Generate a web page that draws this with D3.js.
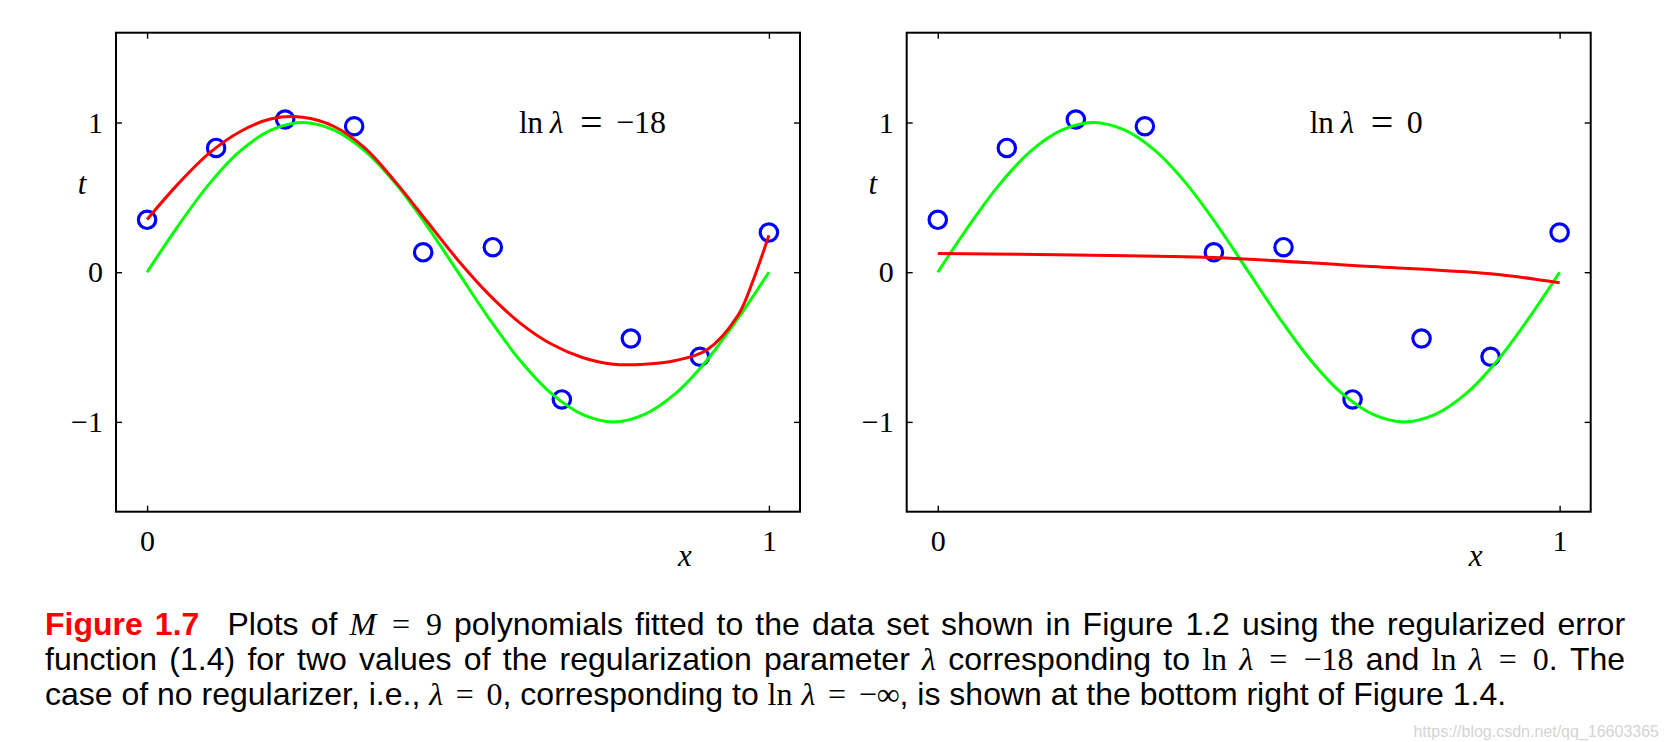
<!DOCTYPE html>
<html>
<head>
<meta charset="utf-8">
<script src="https://cdn.jsdelivr.net/npm/d3@7"></script>
<style>
  body { margin: 0; background: #fff; }
  .wrap { position: relative; width: 1669px; height: 742px; overflow: hidden; }
  svg { position: absolute; left: 0; top: 0; }
  .caption { position: absolute; left: 45px; top: 607px; width: 1620px;
    font-family: 'Liberation Sans', Arial, sans-serif; font-size: 32px; color: #000; }
  .caption div { line-height: 35px; height: 35px; white-space: nowrap; display: inline-block; }
  .caption .fig { color: #f00; font-weight: bold; margin-right: 0.5em; }
  .caption .m { font-family: 'Liberation Serif', serif; font-size: 32px; }
  .caption .mi { font-family: 'Liberation Serif', serif; font-style: italic; font-size: 32px; }
  .caption .rel { margin: 0 0.12em; }
</style>
</head>
<body>
<div class="wrap"></div>
<script>
// data
const xTicks = [0, 1];
const yTicks = [-1, 0, 1];
const pointX = [0, 0.111, 0.222, 0.333, 0.444, 0.556, 0.667, 0.778, 0.889, 1];
const pointT = [0.35, 0.83, 1.02, 0.975, 0.133, 0.167, -0.85, -0.443, -0.565, 0.265];

const greenX = [0, 0.05, 0.1, 0.15, 0.2, 0.25, 0.3, 0.35, 0.4, 0.45, 0.5,
  0.55, 0.6, 0.65, 0.7, 0.75, 0.8, 0.85, 0.9, 0.95, 1];
const greenT = [0, 0.31, 0.59, 0.81, 0.95, 1.0, 0.95, 0.81, 0.59, 0.31, 0,
  -0.31, -0.59, -0.81, -0.95, -1.0, -0.95, -0.81, -0.59, -0.31, 0];

const redLeftX = [0, 0.05, 0.1, 0.15, 0.2, 0.25, 0.3, 0.35, 0.4, 0.45, 0.5,
  0.55, 0.6, 0.65, 0.7, 0.75, 0.8, 0.85, 0.9, 0.95, 0.975, 1];
const redLeftT = [0.352, 0.59, 0.795, 0.94, 1.025, 1.035, 0.975, 0.83, 0.6, 0.34, 0.08,
  -0.15, -0.34, -0.48, -0.57, -0.615, -0.615, -0.59, -0.52, -0.29, -0.05, 0.247];

const redRightX = [0, 0.222, 0.444, 0.667, 0.889, 1];
const redRightT = [0.125, 0.115, 0.098, 0.045, -0.01, -0.07];

const lambdaLabels = ['\u221218', '0'];

// layout
const width = 1669;
const height = 742;
const frameTop = 32.7;
const frameHeight = 479;
const frameWidth = 684;
const panelLeft = [116, 906.7];
const serif = "'Liberation Serif', 'Times New Roman', serif";

const wrap = d3.select('.wrap');
const svg = wrap.append('svg').attr('width', width).attr('height', height);

const y = d3.scaleLinear().domain([-1.6, 1.6]).range([frameTop + frameHeight, frameTop]);

const line = (xs, x) => d3.line()
  .x((d, i) => x(xs[i]))
  .y(d => y(d))
  .curve(d3.curveCatmullRom.alpha(0.5));

const redSets = [[redLeftX, redLeftT], [redRightX, redRightT]];
const fmt = d => (d < 0 ? '\u2212' + Math.abs(d) : String(d));

panelLeft.forEach((left, p) => {
  const x = d3.scaleLinear().domain([-0.05, 1.05]).range([left, left + frameWidth]);
  const g = svg.append('g');

  // points first, curves on top
  g.selectAll('circle')
    .data(pointT)
    .enter()
    .append('circle')
    .attr('cx', (d, i) => x(pointX[i]))
    .attr('cy', d => y(d))
    .attr('r', 8.7)
    .attr('fill', 'none')
    .attr('stroke', '#0000ff')
    .attr('stroke-width', 3.2);

  g.append('path')
    .datum(greenT)
    .attr('fill', 'none')
    .attr('stroke', '#00ff00')
    .attr('stroke-width', 3)
    .attr('d', line(greenX, x));

  const [rx, rt] = redSets[p];
  g.append('path')
    .datum(rt)
    .attr('fill', 'none')
    .attr('stroke', '#ff0000')
    .attr('stroke-width', 3)
    .attr('d', line(rx, x));

  // axes, ticks inward on all four sides
  const bottom = g.append('g').attr('transform', `translate(0, ${frameTop + frameHeight})`)
    .call(d3.axisBottom(x).tickValues(xTicks).tickSizeInner(-6).tickSizeOuter(0).tickPadding(18).tickFormat(fmt));
  const top = g.append('g').attr('transform', `translate(0, ${frameTop})`)
    .call(d3.axisTop(x).tickValues(xTicks).tickSizeInner(-6).tickSizeOuter(0).tickFormat(''));
  const leftAx = g.append('g').attr('transform', `translate(${left}, 0)`)
    .call(d3.axisLeft(y).tickValues(yTicks).tickSizeInner(-6).tickSizeOuter(0).tickPadding(13).tickFormat(fmt));
  const rightAx = g.append('g').attr('transform', `translate(${left + frameWidth}, 0)`)
    .call(d3.axisRight(y).tickValues(yTicks).tickSizeInner(-6).tickSizeOuter(0).tickFormat(''));

  [bottom, top, leftAx, rightAx].forEach(a => {
    a.select('.domain').remove();
    a.selectAll('line').attr('stroke', '#000').attr('stroke-width', 1.4);
    a.selectAll('text').attr('font-family', serif).attr('font-size', 30).attr('fill', '#000');
  });

  // frame
  g.append('rect')
    .attr('x', left)
    .attr('y', frameTop)
    .attr('width', frameWidth)
    .attr('height', frameHeight)
    .attr('fill', 'none')
    .attr('stroke', '#000')
    .attr('stroke-width', 2);

  // axis titles
  g.append('text')
    .attr('x', x(0.865))
    .attr('y', 566)
    .attr('text-anchor', 'middle')
    .attr('font-family', serif)
    .attr('font-style', 'italic')
    .attr('font-size', 31)
    .text('x');

  g.append('text')
    .attr('x', left - 34)
    .attr('y', 194)
    .attr('text-anchor', 'middle')
    .attr('font-family', serif)
    .attr('font-style', 'italic')
    .attr('font-size', 31)
    .text('t');

  // ln lambda label, TeX-like spacing
  const lx = x(0.598);
  const lab = g.append('text')
    .attr('y', y(0.93))
    .attr('font-family', serif)
    .attr('font-size', 31);
  lab.append('tspan').attr('x', lx).text('ln');
  lab.append('tspan').attr('x', lx + 31).attr('font-style', 'italic').text('\u03bb');
  lab.append('tspan').attr('x', lx + 61).attr('font-size', 40).attr('dy', 3).text('=');
  lab.append('tspan').attr('x', lx + 97).attr('dy', -3).attr('font-size', 32).text(lambdaLabels[p]);
});

// watermark
svg.append('text')
  .attr('x', 1659)
  .attr('y', 737)
  .attr('text-anchor', 'end')
  .attr('font-family', "'Liberation Sans', Arial, sans-serif")
  .attr('font-size', 16)
  .attr('fill', '#d4d4d4')
  .text('https://blog.csdn.net/qq_16603365');

// caption
const eq = '<span class="m rel">=</span>';
const lam = '<span class="mi">\u03bb</span>';
const lnLam = '<span class="m">ln</span> ' + lam;
const capLines = [
  '<span class="fig">Figure 1.7</span> Plots of <span class="mi">M</span> ' + eq + ' <span class="m">9</span> polynomials fitted to the data set shown in Figure 1.2 using the regularized error',
  'function (1.4) for two values of the regularization parameter ' + lam + ' corresponding to ' + lnLam + ' ' + eq + ' <span class="m">\u221218</span> and ' + lnLam + ' ' + eq + ' <span class="m">0</span>. The',
  'case of no regularizer, i.e., ' + lam + ' ' + eq + ' <span class="m">0</span>, corresponding to ' + lnLam + ' ' + eq + ' <span class="m">\u2212\u221e</span>, is shown at the bottom right of Figure 1.4.'
];
const captionWidth = 1580;

const cap = wrap.append('div').attr('class', 'caption');
cap.selectAll('div')
  .data(capLines)
  .enter()
  .append('div')
  .html(d => d)
  .each(function(d, i) {
    // justify the first two lines by spreading the word gaps
    if (i < capLines.length - 1) {
      const w = this.getBoundingClientRect().width;
      const gaps = (this.textContent.match(/[ \u00a0]/g) || []).length;
      d3.select(this).style('word-spacing', (captionWidth - w) / gaps + 'px');
    }
  })
  .style('display', 'block');
</script>
</body>
</html>
